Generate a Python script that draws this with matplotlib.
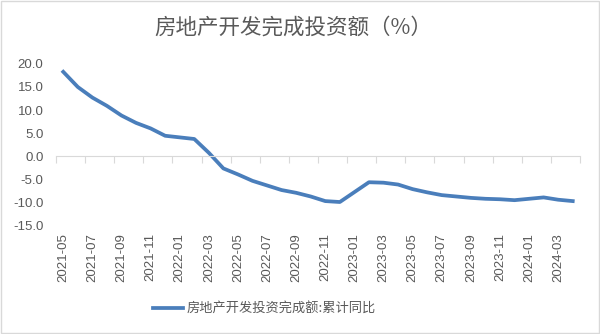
import numpy as np
import matplotlib
matplotlib.use("Agg")
import matplotlib.pyplot as plt
from matplotlib.patches import Rectangle

plt.rcParams['font.family'] = ['Liberation Sans', 'Noto Sans CJK SC', 'DejaVu Sans']

# monthly categories 2021-05 .. 2024-04 (January values not published)
months = [f"{y}-{m:02d}" for y in range(2021, 2025) for m in range(1, 13)]
months = months[months.index("2021-05"):months.index("2024-04") + 1]
values = [18.3, 15.0, 12.7, 10.9, 8.8, 7.2, 6.0, 4.4,
          np.nan, 3.7, 0.7, -2.7, -4.0, -5.4, -6.4, -7.4, -8.0, -8.8, -9.8, -10.0,
          np.nan, -5.7, -5.8, -6.2, -7.2, -7.9, -8.5, -8.8, -9.1, -9.3, -9.4, -9.6,
          np.nan, -9.0, -9.5, -9.8]
series_name = "房地产开发投资完成额:累计同比"
title = "房地产开发完成投资额（%）"

GRAY = '#595959'
BLUE = '#4A7EBB'

vals = np.array(values, dtype=float)
x = np.arange(len(months)) + 0.5
ok = ~np.isnan(vals)

fig = plt.figure(figsize=(6.0, 3.34), dpi=100)
ax = fig.add_axes([0.0933, 0.3263, 0.8734, 0.4821])

line, = ax.plot(x[ok], vals[ok], color=BLUE, lw=2.7, solid_joinstyle='round',
                label=series_name)

ax.set_xlim(0, len(months))
ax.set_ylim(-15, 20)
ax.set_yticks(np.arange(-15, 21, 5))
ax.yaxis.set_major_formatter(matplotlib.ticker.FormatStrFormatter('%.1f'))
ax.tick_params(axis='y', length=0, pad=9, labelsize=9.5, labelcolor=GRAY)

for s in ['left', 'right', 'top']:
    ax.spines[s].set_visible(False)
ax.spines['bottom'].set_position(('data', 0))
ax.spines['bottom'].set_color('#D9D9D9')
ax.set_xticks(np.arange(0, len(months) + 1, 2))
ax.tick_params(axis='x', length=5, color='#D9D9D9', labelbottom=False)

sec = ax.secondary_xaxis('bottom')
sec.spines['bottom'].set_visible(False)
sec.set_xticks(x[::2])
sec.set_xticklabels(months[::2], rotation=90)
sec.tick_params(length=0, pad=6, labelsize=9.5, labelcolor=GRAY)

fig.text(0.488, 0.918, title, ha='center', va='center', fontsize=15.5,
         color=GRAY, family=['Noto Sans CJK SC', 'DejaVu Sans'])

fig.legend(handles=[line], loc='center', bbox_to_anchor=(0.44, 0.075),
           frameon=False, handlelength=2.3, handletextpad=0.25,
           prop={'family': ['Noto Sans CJK SC', 'DejaVu Sans'], 'size': 9.5},
           labelcolor=GRAY)

fig.patches.append(Rectangle((0.002, 0.003), 0.996, 0.994, transform=fig.transFigure,
                             fill=False, edgecolor='#D9D9D9', lw=1))

fig.savefig('out.png', dpi=100, facecolor='white')
